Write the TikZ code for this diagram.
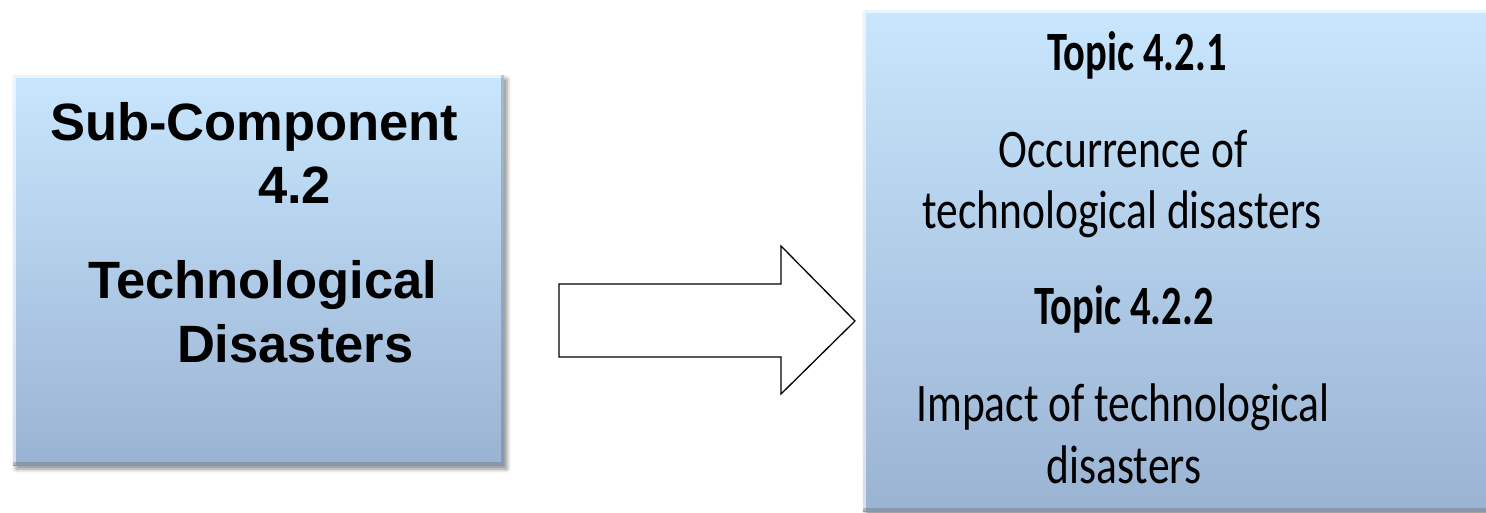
\documentclass[tikz,border=0pt]{standalone}
\usepackage{fontspec}
\setmainfont{Carlito}
\newfontfamily\arialfont{Liberation Sans}
\usetikzlibrary{positioning}
\usetikzlibrary{shadows.blur}
\definecolor{paneltop}{RGB}{200,230,253}
\definecolor{panelbottom}{RGB}{154,179,211}
\newcommand{\tallbold}[1]{\scalebox{1}[1.37]{#1}}
\newcommand{\tallplain}[1]{\scalebox{1}[1.25]{#1}}
\tikzset{
	every node/.style={outer sep=0pt,inner sep=0pt},
	panel/.style={rectangle,top color=paneltop,bottom color=panelbottom,
		blur shadow={shadow xshift=3pt,shadow yshift=-4pt,shadow blur radius=4pt,shadow opacity=45},
		path picture={
			\draw[white,opacity=0.6,line width=6pt] (path picture bounding box.south west) -- (path picture bounding box.north west) -- (path picture bounding box.north east);
			\draw[black!60,opacity=0.35,line width=6pt] (path picture bounding box.north east) -- (path picture bounding box.south east) -- (path picture bounding box.south west);
		}},
	heading/.style={font=\arialfont\bfseries\fontsize{52.5}{60}\selectfont,anchor=base west},
	topic/.style={font=\bfseries\fontsize{40.5}{48}\selectfont,anchor=base},
	detail/.style={font=\fontsize{43.5}{52}\selectfont,anchor=base},
	blockarrow/.style={draw=black,fill=white,line width=1.3pt,line join=miter},
}

\begin{document}
\begin{tikzpicture}[x=1pt,y=-1pt]
	\useasboundingbox (0,0) rectangle (1486,512);
	\clip (0,0) rectangle (1486,512);
	
	%left box.....................
	\node [panel,anchor=north west,minimum width=491pt,minimum height=390pt] (subcomp) at (13,75) {};
	\node [heading] (subname) at (50,140) {Sub-Component};
	\node [heading] (subnum) at (258,203) {4.2};
	\node [heading] (subtitle) at (88,298) {Technological};
	\node [heading] (subtitlex) at (177,362) {Disasters};
	
	%block arrow..................
	\draw [blockarrow] (559,284) -- (781,284) -- (781,246) -- (855,321) -- (781,394) -- (781,357) -- (559,357) -- cycle;
	
	%right box....................
	\node [panel,anchor=north west,minimum width=640pt,minimum height=501pt] (topics) at (863,10) {};
	\node [topic] (topicone) at (1137,70) {\tallbold{Topic 4.2.1}};
	\node [detail] (occur) at (1123,167) {\tallplain{Occurrence of}};
	\node [detail] (occurx) at (1122,228) {\tallplain{technological disasters}};
	\node [topic] (topictwo) at (1124,324) {\tallbold{Topic 4.2.2}};
	\node [detail] (impact) at (1123,421) {\tallplain{Impact of technological}};
	\node [detail] (impactx) at (1124,483) {\tallplain{disasters}};
	
\end{tikzpicture}
\end{document}
